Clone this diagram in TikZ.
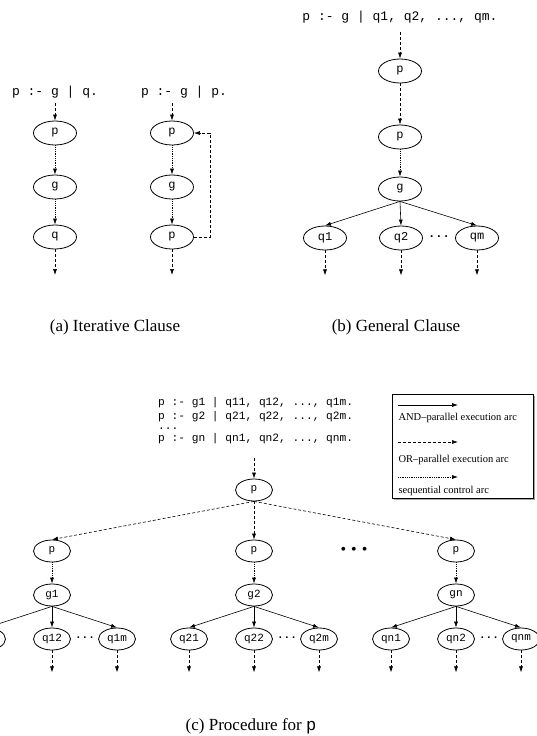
\documentclass[tikz,border=0pt]{standalone}
\usepackage{fontspec}
\setmainfont{Liberation Serif}
\setmonofont{Liberation Mono}
\usetikzlibrary{arrows.meta}
\usetikzlibrary{shapes.geometric}
\usetikzlibrary{positioning}
\tikzset{goal/.style = {ellipse, draw, line width=0.8pt, inner sep=0pt,
                        minimum width=43pt, minimum height=24pt,
                        font=\fontsize{12}{14}\ttfamily},
         sgoal/.style = {goal, minimum width=37pt, minimum height=22pt,
                         font=\fontsize{11}{13}\ttfamily},
         arc/.style = {line width=0.6pt, -{Latex[length=6pt,width=4pt]}},
         andarc/.style = {arc},
         orarc/.style = {arc, dash pattern=on 3pt off 2pt},
         seqarc/.style = {arc, dash pattern=on 0.6pt off 1.2pt},
         clause/.style = {font=\fontsize{13}{15}\ttfamily},
         sclause/.style = {font=\fontsize{11.2}{13}\ttfamily, anchor=base west, inner sep=0pt},
         ellip/.style = {font=\fontsize{12}{14}\ttfamily\bfseries},
         caption/.style = {font=\fontsize{17}{20}\selectfont},
         legend/.style = {font=\fontsize{10.5}{12}\selectfont, anchor=west}}

\begin{document}
\begin{tikzpicture}[x=1pt, y=-1pt]
    \useasboundingbox (0, 0) rectangle (536, 736);

    % (a) iterative clause
    \node [clause] (ta1) at (55, 92) {p :- g | q.};
    \node [goal] (a1p) at (55, 133) {p};
    \node [goal] (a1g) at (55, 187) {g};
    \node [goal] (a1q) at (55, 237) {q};
    \coordinate (a1s) at (55, 103);
    \coordinate (a1e) at (55, 275);
    \draw [orarc] (a1s) -- (a1p);
    \draw [seqarc] (a1p) -- (a1g);
    \draw [seqarc] (a1g) -- (a1q);
    \draw [orarc] (a1q) -- (a1e);

    \node [clause] (ta2) at (184, 92) {p :- g | p.};
    \node [goal] (a2p) at (172, 133) {p};
    \node [goal] (a2g) at (172, 187) {g};
    \node [goal] (a2r) at (172, 237) {p};
    \coordinate (a2s) at (172, 103);
    \coordinate (a2e) at (172, 275);
    \coordinate (a2b) at (210, 237);
    \draw [orarc] (a2s) -- (a2p);
    \draw [seqarc] (a2p) -- (a2g);
    \draw [seqarc] (a2g) -- (a2r);
    \draw [orarc] (a2r) -- (a2e);
    \draw [orarc] (a2r.east) -- (a2b) |- (a2p.east);

    \node [caption] (capa) at (115, 327) {(a) Iterative Clause};

    % (b) general clause
    \node [clause] (tb) at (400, 17) {p :- g | q1, q2, ..., qm.};
    \node [goal] (b1p) at (400, 71) {p};
    \node [goal] (b2p) at (400, 137) {p};
    \node [goal] (bg) at (400, 189) {g};
    \node [goal] (bq1) at (325, 238) {q1};
    \node [goal] (bq2) at (401, 238) {q2};
    \node [goal] (bqm) at (477, 238) {qm};
    \node [ellip] (bdots) at (439, 237) {...};
    \coordinate (bs) at (400, 32);
    \draw [orarc] (bs) -- (b1p);
    \draw [orarc] (b1p) -- (b2p);
    \draw [seqarc] (b2p) -- (bg);
    \foreach \q in {bq1, bq2, bqm} {
        \draw [andarc] (bg.south) -- (\q.north);
        \coordinate (\q e) at ([yshift=-25pt]\q.south);
        \draw [orarc] (\q) -- (\q e);
    }

    \node [caption] (capb) at (396, 327) {(b) General Clause};

    % (c) procedure
    \node [sclause] (tc1) at (158, 405) {p :- g1 | q11, q12, ..., q1m.};
    \node [sclause] (tc2) at (158, 419) {p :- g2 | q21, q22, ..., q2m.};
    \node [sclause] (tc3) at (158, 429) {...};
    \node [sclause] (tc4) at (158, 441) {p :- gn | qn1, qn2, ..., qnm.};
    \coordinate (cs) at (254, 458);
    \node [sgoal] (c0p) at (254, 490) {p};
    \draw [orarc] (cs) -- (c0p);

    \foreach \i/\x/\g in {1/52/g1, 2/254/g2, 3/456/gn} {
        \node [sgoal] (c\i p) at (\x, 551) {p};
        \node [sgoal] (c\i g) at (\x, 595) {\g};
        \draw [orarc] (c0p.south) -- (c\i p.north);
        \draw [seqarc] (c\i p) -- (c\i g);
    }
    \foreach \i/\x/\n in {1/52/1, 2/254/2, 3/456/n} {
        \node [sgoal] (c\i q1) at (\x-65, 639) {q\n1};
        \node [sgoal] (c\i q2) at (\x, 639) {q\n2};
        \node [sgoal] (c\i qm) at (\x+65, 639) {q\n m};
        \node [ellip, font=\fontsize{11}{13}\ttfamily\bfseries] (c\i dots) at (\x+33, 638) {...};
        \foreach \q in {q1, q2, qm} {
            \draw [andarc] (c\i g.south) -- (c\i\q.north);
            \coordinate (c\i\q e) at ([yshift=-22pt]c\i\q.south);
            \draw [orarc] (c\i\q) -- (c\i\q e);
        }
    }
    \node [font=\fontsize{16}{18}\selectfont] (cdots) at (354, 551)
        {\textbullet\hspace{5pt}\textbullet\hspace{5pt}\textbullet};

    % legend
    \fill [gray!70] (394, 396) rectangle (535, 500);
    \draw [fill=white, line width=0.8pt] (392, 394) rectangle (533, 498);
    \coordinate (l1s) at (398, 405);
    \coordinate (l1e) at (458, 405);
    \coordinate (l2s) at (398, 442);
    \coordinate (l2e) at (458, 442);
    \coordinate (l3s) at (398, 477);
    \coordinate (l3e) at (458, 477);
    \draw [andarc] (l1s) -- (l1e);
    \draw [orarc] (l2s) -- (l2e);
    \draw [seqarc] (l3s) -- (l3e);
    \node [legend] (l1) at (395, 418) {AND--parallel execution arc};
    \node [legend] (l2) at (395, 460) {OR--parallel execution arc};
    \node [legend] (l3) at (395, 491) {sequential control arc};

    \node [caption] (capc) at (251, 726) {(c) Procedure for \texttt{p}};
  \end{tikzpicture}
\end{document}
